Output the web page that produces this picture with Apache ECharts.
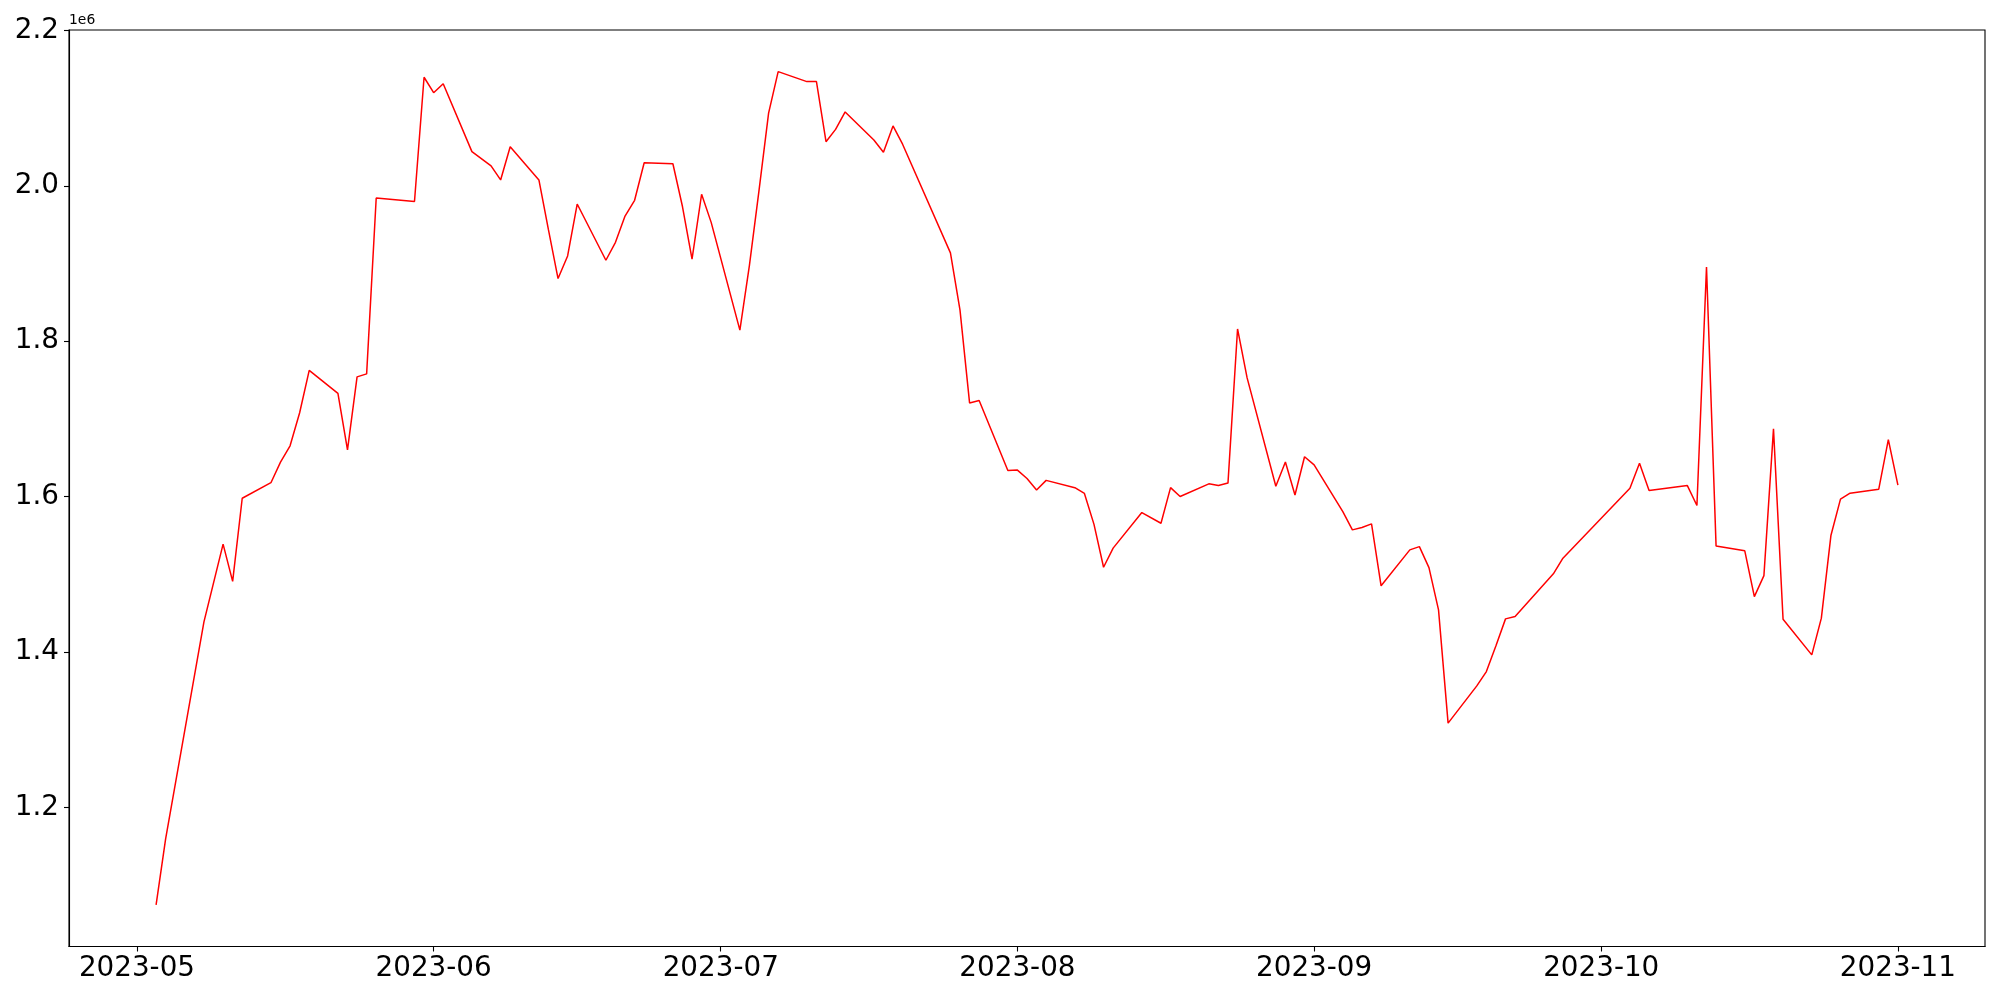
<!DOCTYPE html>
<html>
<head>
<meta charset="utf-8">
<script src="https://cdn.jsdelivr.net/npm/echarts@6/dist/echarts.min.js"></script>
<style>
  html, body { margin: 0; padding: 0; background: #fff; }
  #chart { width: 2000px; height: 1000px; }
</style>
</head>
<body>
<div id="chart"></div>
<script>
const dates = [
  '2023-05-03', '2023-05-04', '2023-05-08', '2023-05-10', '2023-05-11', '2023-05-12',
  '2023-05-15', '2023-05-16', '2023-05-17', '2023-05-18', '2023-05-19',
  '2023-05-22', '2023-05-23', '2023-05-24', '2023-05-25', '2023-05-26',
  '2023-05-30', '2023-05-31', '2023-06-01', '2023-06-02',
  '2023-06-05', '2023-06-07', '2023-06-08', '2023-06-09',
  '2023-06-12', '2023-06-13', '2023-06-14', '2023-06-15', '2023-06-16',
  '2023-06-19', '2023-06-20', '2023-06-21', '2023-06-22', '2023-06-23',
  '2023-06-26', '2023-06-27', '2023-06-28', '2023-06-29', '2023-06-30',
  '2023-07-03', '2023-07-04', '2023-07-05', '2023-07-06', '2023-07-07',
  '2023-07-10', '2023-07-11', '2023-07-12', '2023-07-13', '2023-07-14',
  '2023-07-17', '2023-07-18', '2023-07-19', '2023-07-20',
  '2023-07-25', '2023-07-26', '2023-07-27', '2023-07-28',
  '2023-07-31', '2023-08-01', '2023-08-02', '2023-08-03', '2023-08-04',
  '2023-08-07', '2023-08-08', '2023-08-09', '2023-08-10', '2023-08-11',
  '2023-08-14', '2023-08-16', '2023-08-17', '2023-08-18',
  '2023-08-21', '2023-08-22', '2023-08-23', '2023-08-24', '2023-08-25',
  '2023-08-28', '2023-08-29', '2023-08-30', '2023-08-31', '2023-09-01',
  '2023-09-04', '2023-09-05', '2023-09-06', '2023-09-07', '2023-09-08',
  '2023-09-11', '2023-09-12', '2023-09-13', '2023-09-14', '2023-09-15',
  '2023-09-18', '2023-09-19', '2023-09-20', '2023-09-21', '2023-09-22',
  '2023-09-26', '2023-09-27',
  '2023-10-04', '2023-10-05', '2023-10-06',
  '2023-10-10', '2023-10-11', '2023-10-12', '2023-10-13',
  '2023-10-16', '2023-10-17', '2023-10-18', '2023-10-19', '2023-10-20',
  '2023-10-23', '2023-10-24', '2023-10-25', '2023-10-26', '2023-10-27',
  '2023-10-30', '2023-10-31', '2023-11-01'
]

const values = [
  1074900, 1160000, 1439000, 1539000, 1491000, 1598000,
  1618000, 1644500, 1665500, 1708000, 1762600,
  1733000, 1660200, 1754100, 1758000, 1984300,
  1979700, 2139600, 2119700, 2131300,
  2043900, 2025500, 2007500, 2050300,
  2007500, 1943200, 1880600, 1909700, 1976500,
  1904200, 1927200, 1961000, 1981300, 2029600,
  2028300, 1973300, 1905600, 1989100, 1952900,
  1814300, 1898000, 1994000, 2093400, 2146800,
  2134000, 2134000, 2056700, 2072500, 2095000,
  2058900, 2043200, 2077000, 2053500,
  1913700, 1840100, 1720600, 1723700,
  1633700, 1634200, 1623400, 1608600, 1621000,
  1611600, 1604200, 1564400, 1509200, 1533800,
  1579600, 1565800, 1611600, 1600300,
  1616500, 1614500, 1617500, 1815800, 1752800,
  1613500, 1644600, 1602200, 1651400, 1641000,
  1580800, 1557300, 1560300, 1565000, 1485300,
  1531600, 1535800, 1508800, 1454400, 1308700,
  1356600, 1375000, 1408100, 1442800, 1445800,
  1500700, 1520900,
  1610900, 1643100, 1607900,
  1614300, 1588600, 1895400, 1536700,
  1530300, 1471500, 1498500, 1687200, 1442400,
  1396500, 1443700, 1550000, 1596800, 1604500,
  1609700, 1673400, 1614800
]

const monthTicks = ['2023-05', '2023-06', '2023-07', '2023-08', '2023-09', '2023-10', '2023-11']
const yTicks = [1.2, 1.4, 1.6, 1.8, 2.0, 2.2]

const font = 'DejaVu Sans'

// matplotlib style autoscale: 5% margin on both axes
const times = dates.map(d => +new Date(d + 'T00:00:00'))
const tMin = Math.min(...times)
const tMax = Math.max(...times)
const tPad = (tMax - tMin) * 0.05
const vMin = Math.min(...values)
const vMax = Math.max(...values)
const vPad = (vMax - vMin) * 0.05

const xTickValues = monthTicks.map(m => +new Date(m + '-01T00:00:00'))
const yTickValues = yTicks.map(v => v * 1e6)

const seriesData = dates.map((d, i) => [times[i], values[i]])

const option = {
  backgroundColor: '#fff',
  animation: false,
  grid: {
    left: 69,
    right: 15,
    top: 30,
    bottom: 53.5,
    show: true,
    borderColor: '#000',
    borderWidth: 1.1,
    backgroundColor: 'transparent'
  },
  xAxis: {
    type: 'value',
    min: tMin - tPad,
    max: tMax + tPad,
    splitLine: { show: false },
    axisLine: { show: true, lineStyle: { color: '#000', width: 1.1 } },
    axisTick: {
      show: true,
      length: 5,
      lineStyle: { color: '#000', width: 1.1 },
      customValues: xTickValues
    },
    axisLabel: {
      color: '#000',
      fontFamily: font,
      fontSize: 27.8,
      margin: 8,
      customValues: xTickValues,
      formatter: function (val) {
        const d = new Date(val)
        return d.getFullYear() + '-' + String(d.getMonth() + 1).padStart(2, '0')
      }
    }
  },
  yAxis: {
    type: 'value',
    min: vMin - vPad,
    max: vMax + vPad,
    splitLine: { show: false },
    axisLine: { show: true, lineStyle: { color: '#000', width: 1.1 } },
    axisTick: {
      show: true,
      length: 5,
      lineStyle: { color: '#000', width: 1.1 },
      customValues: yTickValues
    },
    axisLabel: {
      color: '#000',
      fontFamily: font,
      fontSize: 27.8,
      margin: 10,
      customValues: yTickValues,
      formatter: function (val) {
        return (val / 1e6).toFixed(1)
      }
    }
  },
  graphic: [{
    type: 'text',
    left: 69,
    top: 13,
    style: {
      text: '1e6',
      font: '13.9px "DejaVu Sans"',
      fill: '#000'
    }
  }],
  series: [{
    type: 'line',
    data: seriesData,
    showSymbol: false,
    symbol: 'none',
    lineStyle: { color: '#ff0000', width: 1.5 },
    itemStyle: { color: '#ff0000' }
  }]
}

const chart = echarts.init(document.getElementById('chart'))
chart.setOption(option)
</script>
</body>
</html>
